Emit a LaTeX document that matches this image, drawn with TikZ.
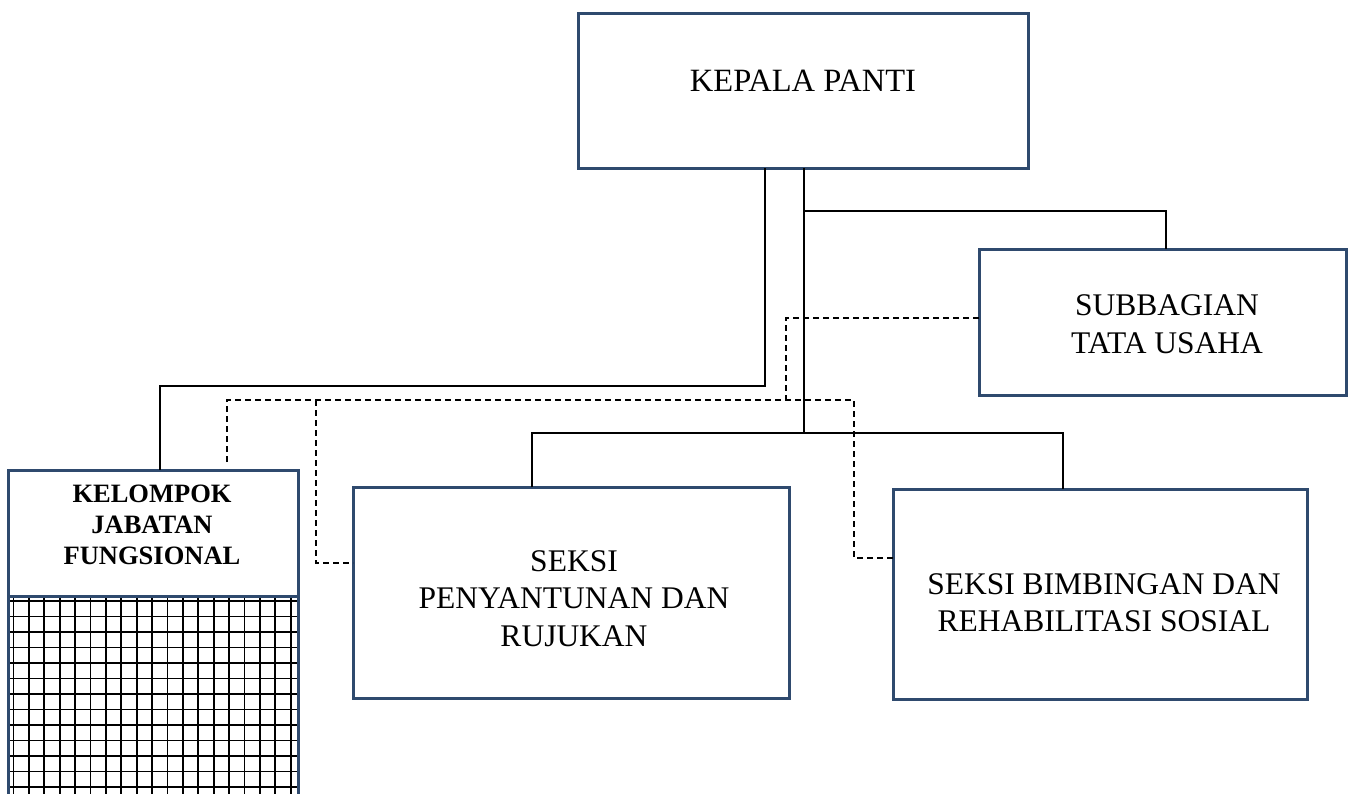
\documentclass[tikz,border=0pt]{standalone}
\usepackage{fontspec}
\setmainfont{Liberation Serif}
\definecolor{boxblue}{RGB}{47,74,110}
\begin{document}
\begin{tikzpicture}[x=1pt,y=-1pt,
  box/.style={draw=boxblue, line width=3pt, fill=white, inner sep=0pt, outer sep=0pt},
  conn/.style={draw=black, line width=2pt},
  dashline/.style={draw=black, line width=2pt, dash pattern=on 6pt off 4pt},
  gridline/.style={draw=black, line width=1.7pt},
  lbl/.style={inner sep=0pt, align=center, font=\fontsize{31.5}{37.5}\selectfont},
  lblb/.style={inner sep=0pt, align=center, font=\bfseries\fontsize{26.5}{31}\selectfont}]
\useasboundingbox (0,0) rectangle (1349,793);

% boxes
\node[box, minimum width=450pt, minimum height=155pt] (kepala) at (803,90.5) {};
\node[box, minimum width=367pt, minimum height=146pt] (subbag) at (1162.5,322) {};
\node[box, minimum width=436pt, minimum height=211pt] (seksi1) at (571,592.5) {};
\node[box, minimum width=414pt, minimum height=210pt] (seksi2) at (1100,594) {};

% grid part of the functional group box
\begin{scope}
  \clip (8,596) rectangle (298,800);
  \foreach \i in {0,...,18} \draw[gridline] ({13.5+15.4*\i},596) -- ({13.5+15.4*\i},800);
  \foreach \j in {0,...,13} \draw[gridline] (8,{601+15.5*\j}) -- (298,{601+15.5*\j});
\end{scope}
\node[box, fill=none, minimum width=290pt, minimum height=214pt, anchor=north] (kgrid) at (153,596) {};
\node[box, minimum width=290pt, minimum height=126pt] (kelompok) at (153,533) {};

% labels
\node[inner sep=0pt, font=\fontsize{32.5}{38}\selectfont] (tkepala) at (803,80.5) {KEPALA PANTI};
\node[lbl] (tsubbag) at (1167,324) {SUBBAGIAN\\TATA USAHA};
\node[lbl] (tseksi1) at (574,598.5) {SEKSI\\PENYANTUNAN DAN\\RUJUKAN};
\node[lbl] (tseksi2) at (1104,602.5) {SEKSI BIMBINGAN DAN\\REHABILITASI SOSIAL};
\node[lblb] (tkelompok) at (152,525) {KELOMPOK\\JABATAN\\FUNGSIONAL};

% junction coordinates
\coordinate (a1) at (765,386);
\coordinate (kt) at (160,386);
\coordinate (a2) at (804,433);
\coordinate (a3) at (804,211);
\coordinate (a4) at (1166,211);
\coordinate (b1) at (532,433);
\coordinate (b2) at (1063,433);

% solid connectors
\draw[conn] (a1 |- kepala.south) -- (a1) -- (kt) -- (kt |- kelompok.north);
\draw[conn] (a2 |- kepala.south) -- (a2);
\draw[conn] (a3) -- (a4) -- (a4 |- subbag.north);
\draw[conn] (b1 |- seksi1.north) -- (b1) -- (b2) -- (b2 |- seksi2.north);

% dashed connectors
\coordinate (d1) at (786,318);
\coordinate (d2) at (786,400);
\coordinate (e1) at (227,400);
\coordinate (e1b) at (227,462);
\coordinate (e2) at (316,400);
\coordinate (e2b) at (316,563);
\coordinate (e3) at (854,400);
\coordinate (e3b) at (854,558);
\draw[dashline] (subbag.west |- d1) -- (d1) -- (d2);
\draw[dashline] (e1b) -- (e1) -- (e3) -- (e3b) -- (seksi2.west |- e3b);
\draw[dashline] (e2) -- (e2b) -- (seksi1.west |- e2b);
\end{tikzpicture}
\end{document}
